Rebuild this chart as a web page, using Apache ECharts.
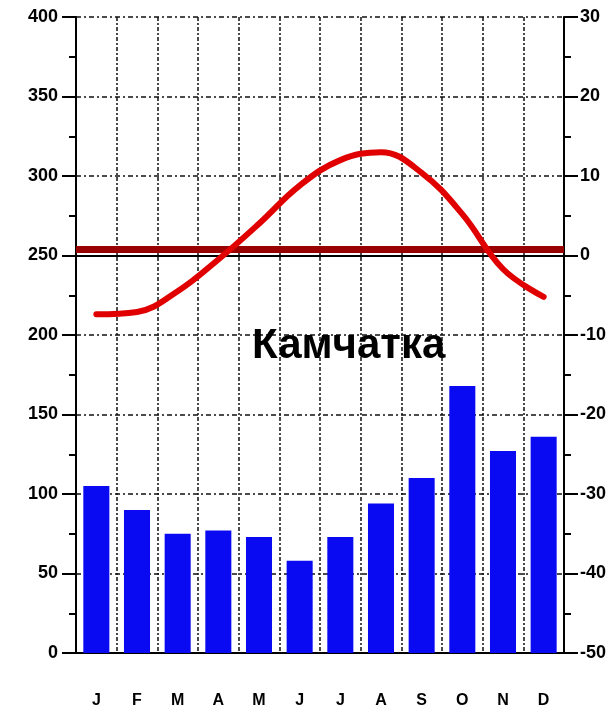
<!DOCTYPE html>
<html>
<head>
<meta charset="utf-8">
<script src="https://cdn.jsdelivr.net/npm/echarts@6/dist/echarts.min.js"></script>
<style>
  html, body { margin: 0; padding: 0; background: #fff; }
  #chart { width: 609px; height: 711px; }
</style>
</head>
<body>
<div id="chart"></div>
<script>
// климатограмма: осадки (мм, левая ось) и температура (°C, правая ось)
const months = ['J', 'F', 'M', 'A', 'M', 'J', 'J', 'A', 'S', 'O', 'N', 'D']
const precipitation = [105, 90, 75, 77, 73, 58, 73, 94, 110, 168, 127, 136]
const temperature = [-7.4, -7.1, -4.5, -0.5, 4.0, 8.8, 12.0, 13.0, 10.4, 5.2, -1.7, -5.2]
const precipRefLine = 250
const tempRefLine = 0.8

const chart = echarts.init(document.getElementById('chart'))

const labelFont = {
  color: '#000',
  fontFamily: 'Liberation Sans',
  fontWeight: 'bold',
  fontSize: 18
}

const option = {
  animation: false,
  backgroundColor: '#fff',
  title: {
    text: 'Камчатка',
    left: 252,
    top: 325,
    padding: 0,
    textStyle: {
      color: '#000',
      fontFamily: 'Liberation Sans',
      fontWeight: 'bold',
      fontSize: 42
    }
  },
  grid: {
    left: 76,
    right: 42,
    top: 17,
    bottom: 58
  },
  xAxis: {
    type: 'category',
    data: months,
    boundaryGap: true,
    axisLine: { lineStyle: { color: '#000', width: 2 } },
    axisTick: { show: false },
    axisLabel: { ...labelFont, fontSize: 16, margin: 40, interval: 0 },
    splitLine: {
      show: true,
      interval: 0,
      lineStyle: { color: '#111', width: 1.5, type: [4, 2, 2, 2] }
    }
  },
  yAxis: [
    {
      type: 'value',
      min: 0,
      max: 400,
      interval: 50,
      axisLine: { show: true, lineStyle: { color: '#000', width: 2 } },
      axisTick: { show: true, length: 14, lineStyle: { color: '#000', width: 2 } },
      minorTick: { show: true, splitNumber: 2, length: 7, lineStyle: { color: '#000', width: 2 } },
      axisLabel: { ...labelFont, margin: 18 },
      splitLine: {
        show: true,
        lineStyle: { color: '#111', width: 1.5, type: [5, 3, 2, 3] }
      }
    },
    {
      type: 'value',
      min: -50,
      max: 30,
      interval: 10,
      position: 'right',
      axisLine: { show: true, lineStyle: { color: '#000', width: 2 } },
      axisTick: { show: true, length: 14, lineStyle: { color: '#000', width: 2 } },
      minorTick: { show: true, splitNumber: 2, length: 7, lineStyle: { color: '#000', width: 2 } },
      axisLabel: { ...labelFont, margin: 16 },
      splitLine: { show: false }
    }
  ],
  series: [
    {
      name: 'Осадки',
      type: 'bar',
      yAxisIndex: 0,
      barWidth: '64%',
      itemStyle: { color: '#0a0af2' },
      data: precipitation,
      markLine: {
        silent: true,
        symbol: 'none',
        label: { show: false },
        lineStyle: { color: '#000', width: 2, type: 'solid' },
        data: [{ yAxis: precipRefLine }]
      }
    },
    {
      name: 'Температура',
      type: 'line',
      yAxisIndex: 1,
      smooth: 0.4,
      symbol: 'none',
      z: 5,
      lineStyle: { color: '#e00000', width: 6, cap: 'round' },
      data: temperature,
      markLine: {
        silent: true,
        symbol: 'none',
        label: { show: false },
        lineStyle: { color: '#990000', width: 7, type: 'solid' },
        data: [{ yAxis: tempRefLine }]
      }
    }
  ]
}

chart.setOption(option)
</script>
</body>
</html>
